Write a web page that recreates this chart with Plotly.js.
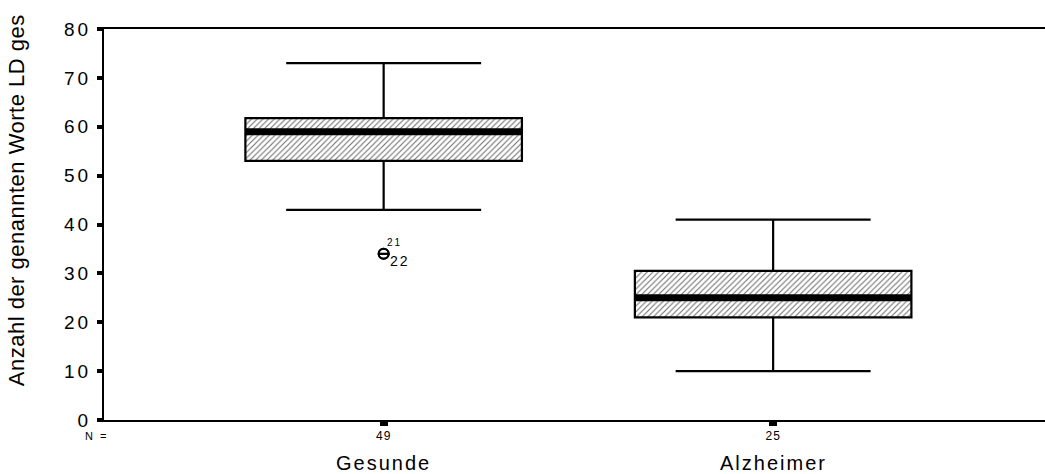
<!DOCTYPE html>
<html>
<head>
<meta charset="utf-8">
<script src="https://cdn.plot.ly/plotly-3.0.1.min.js"></script>
<style>
  body { margin: 0; background: #fff; }
  #chart { width: 1045px; height: 474px; }
  .ytick text { letter-spacing: 3px; }
  .xtick text { letter-spacing: 1px; }
</style>
</head>
<body>
<div id="chart"></div>
<script>
// ---- data ----
var categories = ["Gesunde", "Alzheimer"];
var nLabels = ["49", "25"];
var lowerWhisker = [43, 10];
var q1 = [53, 21];
var medians = [59, 25];
var q3 = [61.75, 30.5];
var upperWhisker = [73, 41];
var outlierCat = [0, 0];
var outlierValues = [34, 34];
var outlierIds = ["21", "22"];
var yTickVals = [0, 10, 20, 30, 40, 50, 60, 70, 80];
var yTitle = "Anzahl der genannten Worte LD ges";

// ---- styling ----
var FONT = "Liberation Sans, Arial, sans-serif";
var boxWidth = 0.71;
var xIdx = categories.map(function (c, i) { return i; });

var traces = [];

// hatched box fill (bar between q1 and q3)
traces.push({
  type: "bar",
  x: xIdx,
  base: q1,
  y: q3.map(function (v, i) { return v - q1[i]; }),
  width: boxWidth,
  marker: {
    color: "white",
    line: { width: 0 },
    pattern: { shape: "/", fgcolor: "#6a6a6a", bgcolor: "white", size: 4, solidity: 0.25 }
  },
  hoverinfo: "skip",
  showlegend: false
});

// box outline and whiskers
traces.push({
  type: "box",
  x: xIdx,
  q1: q1,
  median: medians,
  q3: q3,
  lowerfence: lowerWhisker,
  upperfence: upperWhisker,
  width: boxWidth,
  whiskerwidth: 0.705,
  fillcolor: "rgba(0,0,0,0)",
  line: { color: "black", width: 2.2 },
  boxpoints: false,
  showlegend: false
});

// thick median bars
medians.forEach(function (m, i) {
  traces.push({
    type: "scatter",
    mode: "lines",
    x: [i - boxWidth / 2, i + boxWidth / 2],
    y: [m, m],
    line: { color: "black", width: 7 },
    hoverinfo: "skip",
    showlegend: false
  });
});

// outliers
traces.push({
  type: "scatter",
  mode: "markers",
  x: outlierCat,
  y: outlierValues,
  marker: { symbol: "circle-open", size: 10, color: "black", line: { width: 2, color: "black" } },
  hoverinfo: "skip",
  showlegend: false
});
traces.push({
  type: "scatter",
  mode: "markers",
  x: outlierCat,
  y: outlierValues,
  marker: { symbol: "line-ew", size: 8, color: "black", line: { width: 2, color: "black" } },
  hoverinfo: "skip",
  showlegend: false
});

var annotations = [];
// outlier case ids
outlierIds.forEach(function (id, i) {
  annotations.push({
    x: outlierCat[i], y: outlierValues[i], xref: "x", yref: "y",
    text: id, showarrow: false,
    xanchor: "left", yanchor: i === 0 ? "bottom" : "top",
    xshift: i === 0 ? 3 : 6, yshift: i === 0 ? 4 : 3,
    font: { family: FONT, size: i === 0 ? 10 : 14, color: "black" }
  });
});
// category names
categories.forEach(function (c, i) {
  annotations.push({
    x: i, y: 0, xref: "x", yref: "paper",
    text: c, showarrow: false,
    xanchor: "center", yanchor: "top", yshift: -30,
    font: { family: FONT, size: 20, color: "black" }
  });
});
// "N =" label
annotations.push({
  x: 0, y: 0, xref: "paper", yref: "paper",
  text: "N =", showarrow: false,
  xanchor: "center", yanchor: "top", xshift: -8, yshift: -8,
  font: { family: FONT, size: 11, color: "black" }
});
// y-axis title
annotations.push({
  x: 0, y: 0.5627, xref: "paper", yref: "paper",
  text: yTitle, showarrow: false, textangle: -90,
  xanchor: "center", yanchor: "middle", xshift: -87,
  font: { family: FONT, size: 22, color: "black" }
});

var layout = {
  width: 1045, height: 474,
  margin: { l: 104, r: 0, t: 29, b: 54 },
  paper_bgcolor: "white", plot_bgcolor: "white",
  showlegend: false,
  font: { family: FONT, color: "black" },
  xaxis: {
    range: [-0.718, 1.698],
    tickvals: xIdx,
    ticktext: nLabels,
    tickfont: { family: FONT, size: 12, color: "black" },
    ticks: "outside", ticklen: 4, tickwidth: 8, tickcolor: "black",
    showline: true, linecolor: "black", linewidth: 2, mirror: true,
    showgrid: false, zeroline: false, fixedrange: true
  },
  yaxis: {
    range: [0, 80],
    tickvals: yTickVals,
    tickfont: { family: FONT, size: 19, color: "black" },
    ticks: "outside", ticklen: 5, tickwidth: 4, tickcolor: "black",
    ticklabelstandoff: 2,
    showline: true, linecolor: "black", linewidth: 2,
    showgrid: false, zeroline: false, fixedrange: true
  },
  annotations: annotations
};

Plotly.newPlot("chart", traces, layout, { displayModeBar: false, staticPlot: true });
</script>
<style>
  .annotation-text { letter-spacing: 2px; }
  .annotation:last-of-type .annotation-text { letter-spacing: 0.5px; }
</style>
</body>
</html>
